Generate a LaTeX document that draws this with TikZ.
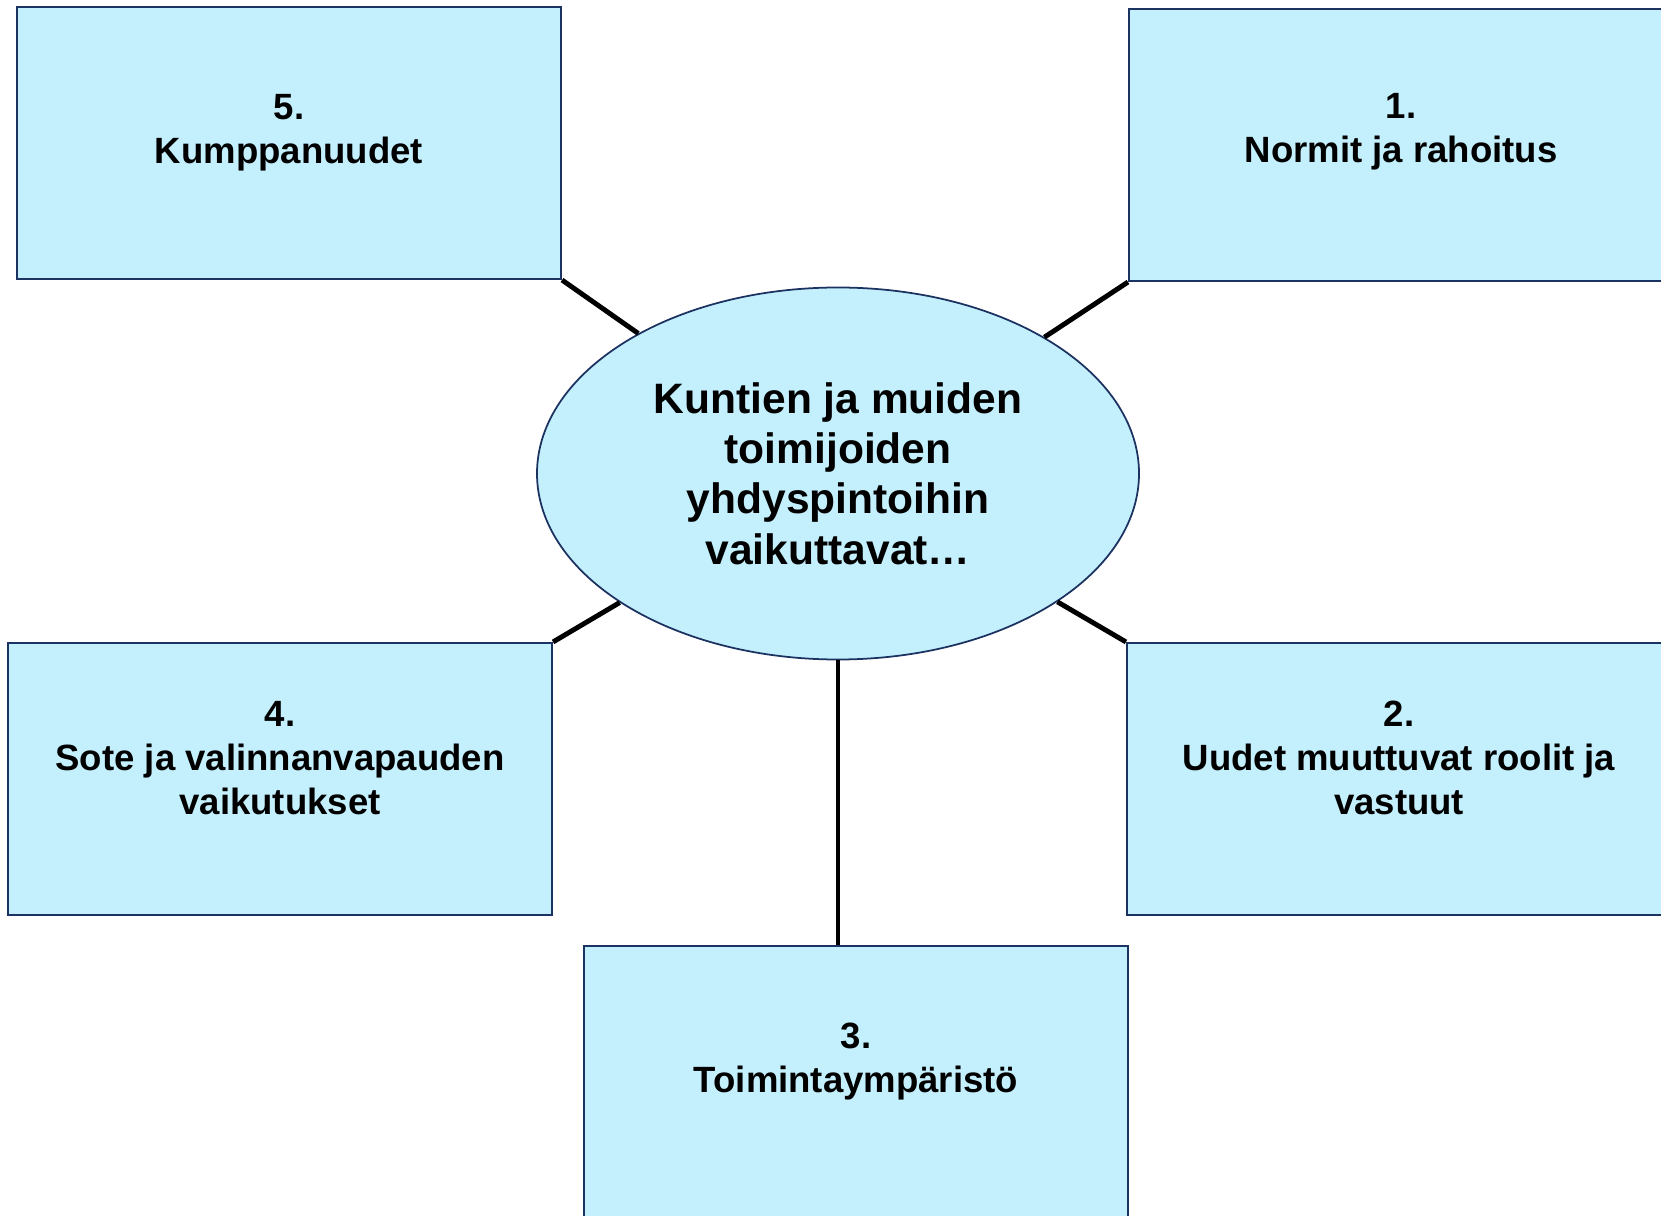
\documentclass[tikz,border=0pt]{standalone}
\usepackage{fontspec}
\setmainfont{Liberation Sans}
\usepackage{tikz}
\usetikzlibrary{shapes.geometric}

\definecolor{boxfill}{RGB}{196,240,253}
\definecolor{boxline}{RGB}{28,50,96}

\begin{document}
\begin{tikzpicture}[
	teema/.style={draw=boxline, line width=0.6pt, fill=boxfill, minimum width=5.44cm, minimum height=2.72cm, inner sep=0pt},
	teksti/.style={align=center, font=\fontsize{10.4}{12.5}\selectfont\bfseries},
	yhteys/.style={line width=1.4pt, black}]
	\useasboundingbox (0,0) rectangle (16.61,12.15);
	% keskus
	\node[ellipse, draw=boxline, line width=0.5pt, fill=boxfill, minimum width=6.02cm, minimum height=3.72cm, inner sep=0pt, align=center, font=\fontsize{12.1}{14.3}\selectfont\bfseries] (keski) at (8.38,7.415) {Kuntien ja muiden\\toimijoiden\\yhdyspintoihin\\vaikuttavat…};
	% laatikot
	\node[teema] (t1) at (14.01,10.70) {};
	\node[teema] (t2) at (13.99,4.36) {};
	\node[teema] (t3) at (8.56,1.33) {};
	\node[teema] (t4) at (2.80,4.36) {};
	\node[teema] (t5) at (2.89,10.72) {};
	\node[teksti] (n1) at ([yshift=-1.24cm]t1.north) {1.\\Normit ja rahoitus};
	\node[teksti] (n2) at ([yshift=-1.16cm]t2.north) {2.\\Uudet muuttuvat roolit ja\\vastuut};
	\node[teksti] (n3) at ([yshift=-1.17cm]t3.north) {3.\\Toimintaympäristö};
	\node[teksti] (n4) at ([yshift=-1.16cm]t4.north) {4.\\Sote ja valinnanvapauden\\vaikutukset};
	\node[teksti] (n5) at ([yshift=-1.27cm]t5.north) {5.\\Kumppanuudet};
	% yhteydet
	\draw[yhteys] (t1.south west) -- (keski);
	\draw[yhteys] (t2.north west) -- (keski);
	\draw[yhteys] (t4.north east) -- (keski);
	\draw[yhteys] (t5.south east) -- (keski);
	\draw[yhteys] (keski.south) -- (keski.south |- t3.north);
\end{tikzpicture}
\end{document}
